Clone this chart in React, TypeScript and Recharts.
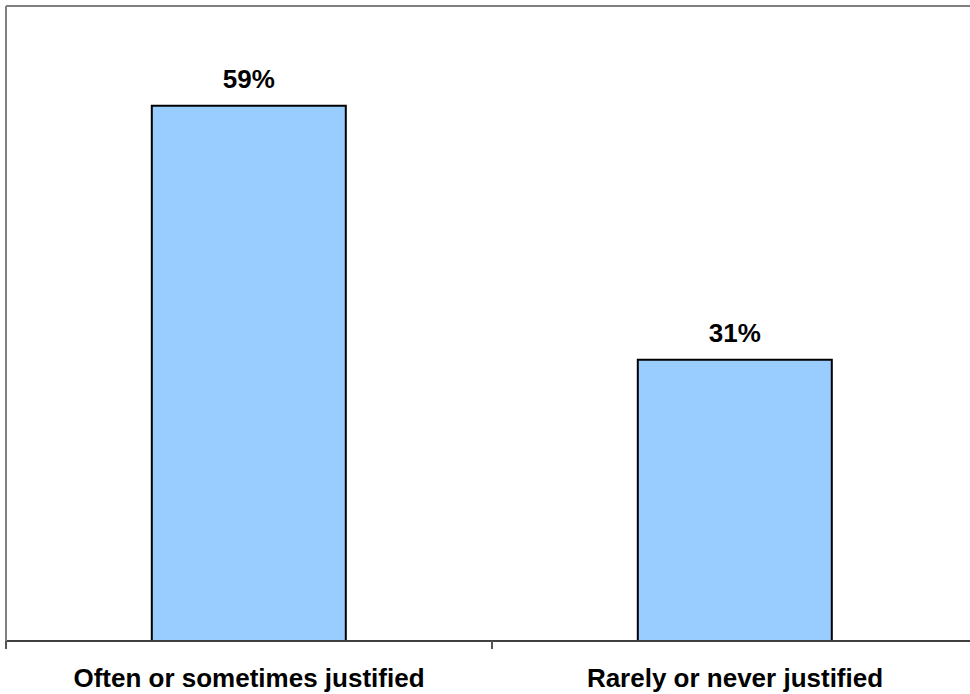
import React from 'react';
import { BarChart, Bar, XAxis, YAxis, ReferenceLine, LabelList } from 'recharts';

const categories = ['Often or sometimes justified', 'Rarely or never justified'];
const shares = [59, 31];

const CHART_W = 978;
const CHART_H = 694;
const MARGIN = { top: 6, right: 0, left: 4, bottom: 0 };
const Y_AXIS_W = 2;
const PLOT_W = CHART_W - MARGIN.left - MARGIN.right - Y_AXIS_W;
const FONT = "'Liberation Sans', Arial, sans-serif";

const data = categories.map((name, i) => ({ name, value: shares[i] }));

// category ticks sit between the bars, so draw them by hand in the tick renderer
const CategoryTick = (props: any) => {
    const { x, y, payload, index } = props;
    const band = PLOT_W / categories.length;
    const axisY = y - 28;
    return (
        <g>
            <line x1={x - band / 2} y1={axisY} x2={x - band / 2} y2={axisY + 8} stroke="#555" strokeWidth={2} />
            {index === categories.length - 1 && (
                <line x1={x + band / 2} y1={axisY} x2={x + band / 2} y2={axisY + 8} stroke="#555" strokeWidth={2} />
            )}
            <text x={x} y={y} dy="0.71em" textAnchor="middle" fontSize={26} fontWeight="bold" fill="#000" fontFamily={FONT}>
                {payload.value}
            </text>
        </g>
    );
};

const App: React.FC = () => {
    return (
        <div style={{ position: 'absolute', left: 0, top: 0, width: 970, height: 694, overflow: 'hidden', background: '#fff' }}>
            <BarChart width={CHART_W} height={CHART_H} data={data} margin={MARGIN} barCategoryGap="30%">
                <XAxis
                    dataKey="name"
                    height={53}
                    axisLine={{ stroke: '#404040', strokeWidth: 2 }}
                    tickLine={false}
                    tickSize={6}
                    tickMargin={22}
                    tick={<CategoryTick />}
                    interval={0}
                />
                <YAxis
                    width={Y_AXIS_W}
                    domain={[0, 70]}
                    ticks={[0, 70]}
                    tick={false}
                    tickLine={false}
                    axisLine={{ stroke: '#808080', strokeWidth: 2 }}
                />
                <ReferenceLine y={70} stroke="#808080" strokeWidth={2} />
                <Bar dataKey="value" fill="#99CCFF" stroke="#000" strokeWidth={2} isAnimationActive={false}>
                    <LabelList
                        dataKey="value"
                        position="top"
                        offset={18}
                        formatter={(v: any) => `${v}%`}
                        style={{ fontSize: 26, fontWeight: 'bold', fill: '#000', fontFamily: FONT }}
                    />
                </Bar>
            </BarChart>
        </div>
    );
};

export default App;
